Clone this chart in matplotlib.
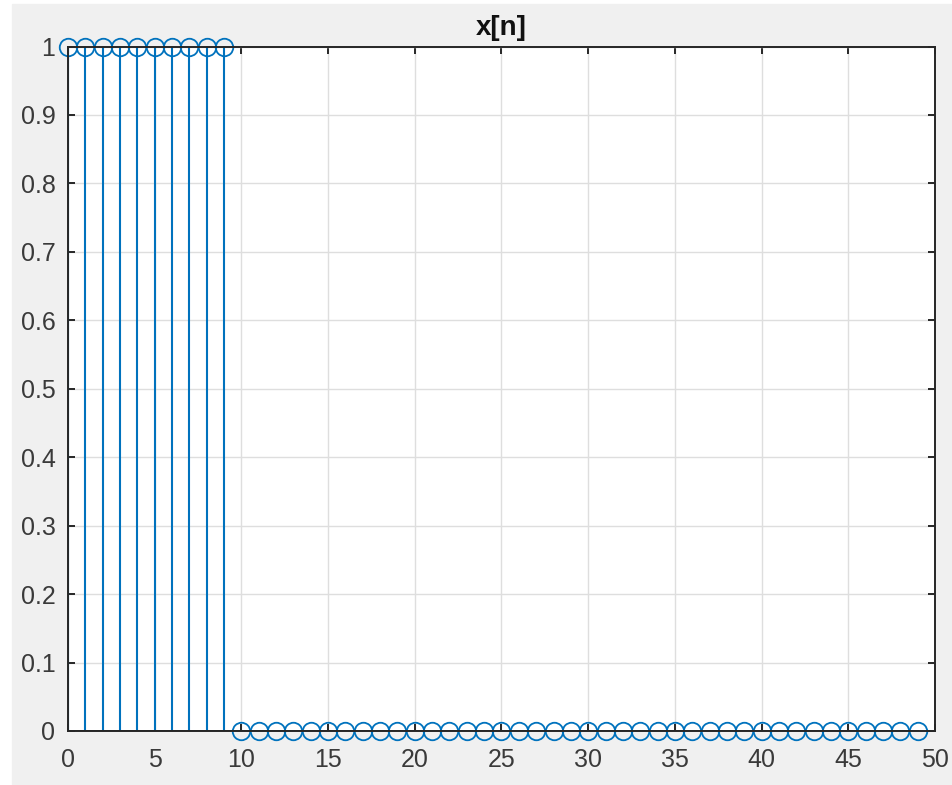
import numpy as np
import matplotlib.pyplot as plt
from matplotlib.patches import Rectangle

# signal x[n]: unit pulse of length 10
n = list(range(50))
xn = [1] * 10 + [0] * 40

xticks = [0, 5, 10, 15, 20, 25, 30, 35, 40, 45, 50]
yticks = [0, 0.1, 0.2, 0.3, 0.4, 0.5, 0.6, 0.7, 0.8, 0.9, 1]
ytick_labels = ['0', '0.1', '0.2', '0.3', '0.4', '0.5', '0.6', '0.7', '0.8', '0.9', '1']

plt.rcParams['font.family'] = ['Liberation Sans', 'DejaVu Sans']

W, H = 953, 785
fig = plt.figure(figsize=(W / 100, H / 100), dpi=100, facecolor='white')
# gray window area, with a thin white margin on the left and top
fig.patches.append(Rectangle((12 / W, 0), 1 - 12 / W, 1 - 4 / H,
                             transform=fig.transFigure, color='#f0f0f0', zorder=-10))

ax = fig.add_axes((68 / W, 1 - 731 / H, (935 - 68) / W, (731 - 46.5) / H))
ax.set_facecolor('white')

blue = '#0072BD'
markerline, stemlines, baseline = ax.stem(n, xn)
plt.setp(stemlines, color=blue, linewidth=1.5)
plt.setp(markerline, color=blue, marker='o', markersize=12.6,
         markerfacecolor='none', markeredgewidth=1.3)
plt.setp(baseline, color='#262626', linewidth=1.4)
markerline.set_clip_on(False)

ax.set_xlim(0, 50)
ax.set_ylim(0, 1)
ax.set_xticks(xticks)
ax.set_yticks(yticks)
ax.set_yticklabels(ytick_labels)
ax.grid(True, color='#dedede', linewidth=1.0)
ax.set_axisbelow(True)

for s in ax.spines.values():
    s.set_color('#262626')
    s.set_linewidth(1.4)
ax.tick_params(direction='in', length=5, width=1.4, color='#262626',
               labelsize=18, labelcolor='#3a3a3a', top=True, right=True)
ax.tick_params(axis='x', pad=12)
ax.tick_params(axis='y', pad=9)

ax.set_title('x[n]', fontsize=20, fontweight='bold', color='#111111', pad=8.5)

fig.savefig('out.png', dpi=100, facecolor=fig.get_facecolor())
